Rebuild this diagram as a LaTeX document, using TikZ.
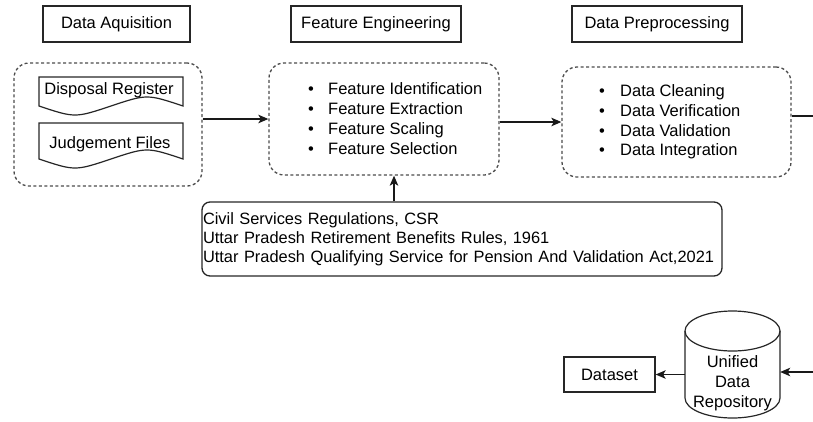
\documentclass[tikz,border=0pt]{standalone}
\usepackage{fontspec}
\setmainfont{Liberation Sans}
\usetikzlibrary{arrows.meta,calc}
\begin{document}
\begin{tikzpicture}[x=1pt,y=-1pt,
  every node/.style={font=\fontsize{16.5}{19.8}\selectfont, inner sep=0pt, text=black},
  title/.style={draw=black!85, line width=1.3pt, minimum height=36pt},
  group/.style={draw=black!70, dash pattern=on 3pt off 2.5pt, line width=1.3pt, rounded corners=15pt},
  shapeline/.style={draw=black!85, line width=1.2pt},
  conn/.style={line width=1.3pt, draw=black!90, -{Stealth[length=10pt,width=8.5pt,inset=2.5pt]}},
  plainline/.style={line width=1.3pt, draw=black!90},
]
\useasboundingbox (0,0) rectangle (813,421);

% titles
\node[title, minimum width=147pt] (t1) at (116.5,24) {Data Aquisition};
\node[title, minimum width=170pt] (t2) at (376,24) {Feature Engineering};
\node[title, minimum width=170pt] (t3) at (657,24) {Data Preprocessing};

% groups
\node[group, minimum width=188pt, minimum height=123pt] (acq) at (108,124.5) {};
\node[group, minimum width=230pt, minimum height=112pt] (feat) at (384,119) {};
\node[group, minimum width=229pt, minimum height=110pt] (prep) at (676.5,122) {};

% documents
\draw[shapeline] (39,77) -- (183,77) -- (183,106)
  .. controls (147,94) .. (111,106) .. controls (75,118) .. (39,106) -- cycle;
\node (disp) at (109,90) {Disposal Register};
\draw[shapeline] (39,123) -- (183,123) -- (183,159)
  .. controls (147,147) .. (111,159) .. controls (75,171) .. (39,159) -- cycle;
\node (judg) at (110,144) {Judgement Files};

% lists
\node[anchor=west, align=left] (flist) at (308,118.5) {%
\makebox[20pt][l]{\textbullet}Feature Identification\\
\makebox[20pt][l]{\textbullet}Feature Extraction\\
\makebox[20pt][l]{\textbullet}Feature Scaling\\
\makebox[20pt][l]{\textbullet}Feature Selection};
\node[anchor=west, align=left] (plist) at (599,122) {%
\makebox[21pt][l]{\textbullet}Data Cleaning\\
\makebox[21pt][l]{\textbullet}Data Verification\\
\makebox[21pt][l]{\textbullet}Data Validation\\
\makebox[21pt][l]{\textbullet}Data Integration};

% CSR box
\node[draw=black!85, line width=1.3pt, rounded corners=8pt, minimum width=520pt, minimum height=74pt,
      text width=518pt, align=left, font=\fontsize{16.4}{19}\selectfont] (csr) at (462,239) {%
Civil Services Regulations, CSR\\
Uttar Pradesh Retirement Benefits Rules, 1961\\
Uttar Pradesh Qualifying Service for Pension And Validation Act,2021};

% repository cylinder
\draw[shapeline] (732.5,331) ellipse[x radius=47.5pt, y radius=20pt];
\draw[shapeline] (685,331) -- (685,398) arc[start angle=180, end angle=360, x radius=47.5pt, y radius=20pt] -- (780,331);
\node[minimum width=95pt, align=center, font=\fontsize{16.5}{20}\selectfont] (repo) at (732.5,383) {Unified\\Data\\Repository};

% dataset
\node[title, minimum width=91pt, minimum height=35pt] (dataset) at (609.5,374.5) {Dataset};

% connectors
\coordinate (up) at (394,202);
\coordinate (out1) at (813,116);
\coordinate (in2) at (813,372);
\draw[conn] (acq.east |- feat.west) -- (feat.west);
\draw[conn] (feat.east |- prep.west) -- (prep.west);
\draw[plainline] (prep.east |- out1) -- (out1);
\draw[conn] (csr.north -| up) -- (feat.south -| up);
\draw[conn] (in2) -- (repo.east |- in2);
\draw[conn] (repo.west |- dataset.east) -- (dataset.east);
\end{tikzpicture}
\end{document}
